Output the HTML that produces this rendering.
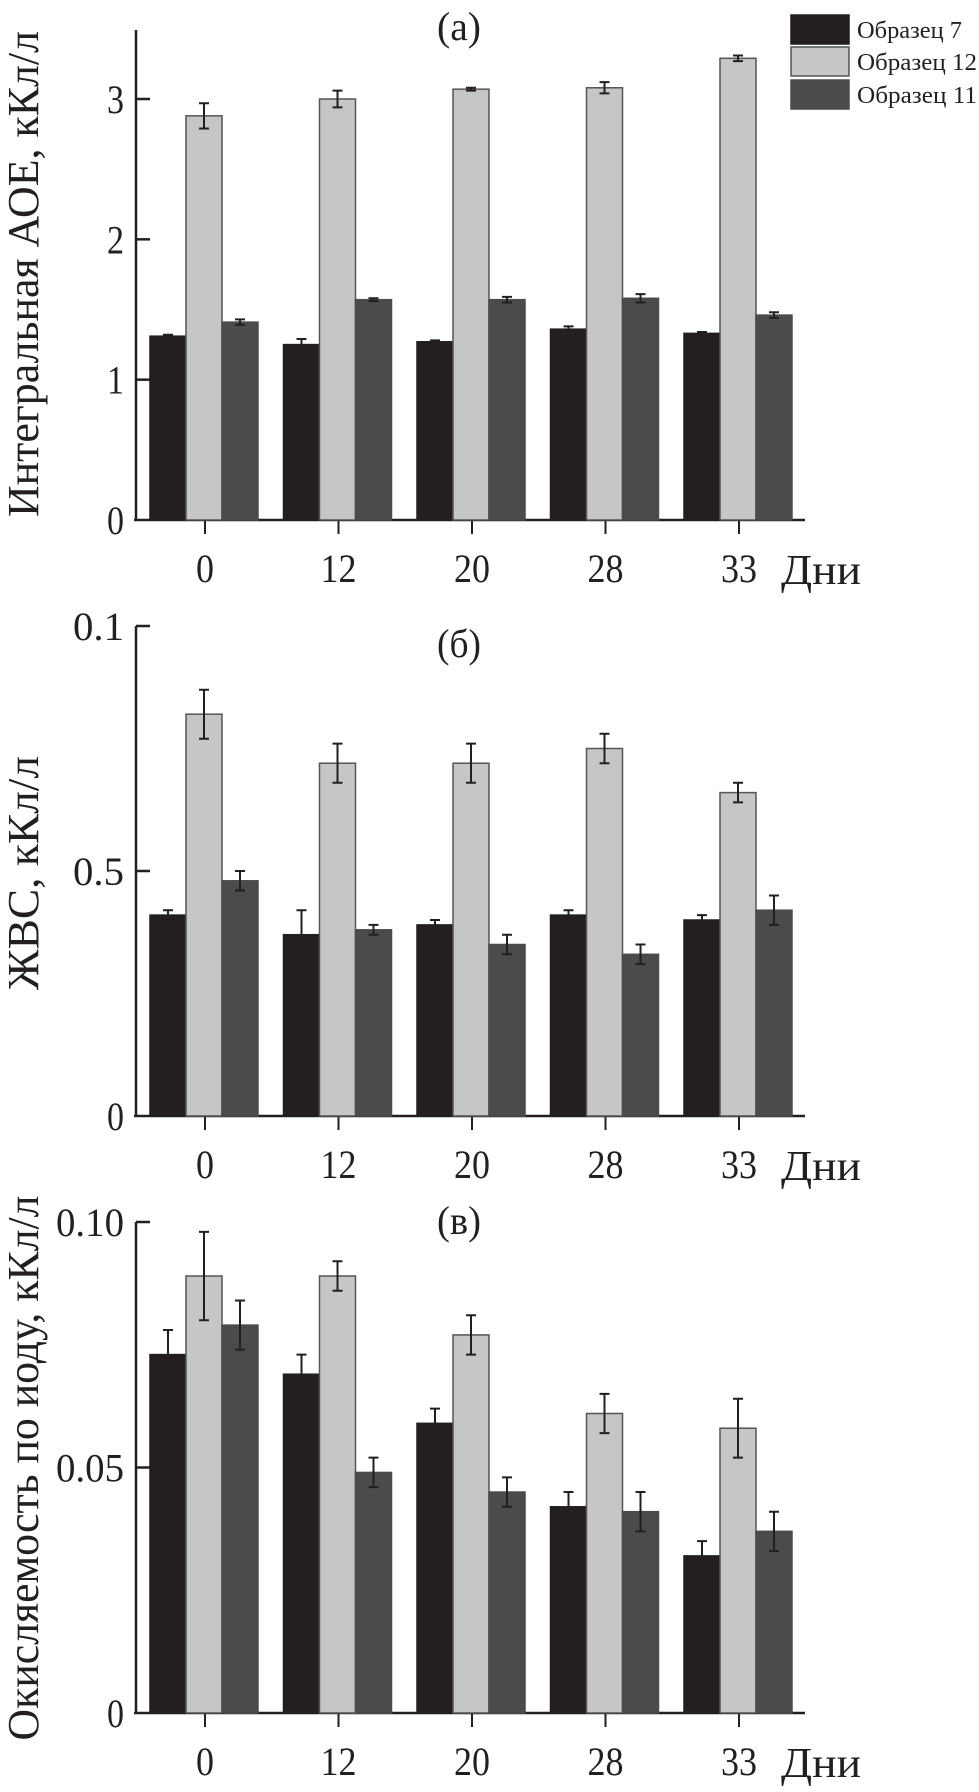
<!DOCTYPE html>
<html><head><meta charset="utf-8"><style>
body{margin:0;background:#fff;}
svg text{font-family:"Liberation Serif",serif;fill:#231f20;}
</style></head><body>
<svg id="chart" width="979" height="1787" xmlns="http://www.w3.org/2000/svg">
</svg>
<script>
const categories = ["0","12","20","28","33"];
const seriesNames = ["Образец 7","Образец 12","Образец 11"];
const colors = ["#231f20","#c5c6c8","#4a4b4d"];
// panel a
const aS7 = [1.31,1.25,1.27,1.36,1.33];
const aS12 = [2.88,3.0,3.07,3.08,3.29];
const aS11 = [1.41,1.57,1.57,1.58,1.46];
const aE7 = [0.01,0.04,0.01,0.02,0.01];
const aE12 = [0.09,0.06,0.01,0.04,0.02];
const aE11 = [0.02,0.01,0.02,0.03,0.02];
const aTicks = [0,1,2,3];
const aTickLabels = ["0","1","2","3"];
// panel b (top tick labelled 0.1 in original)
const bS7 = [0.41,0.37,0.39,0.41,0.40];
const bS12 = [0.82,0.72,0.72,0.75,0.66];
const bS11 = [0.48,0.38,0.35,0.33,0.42];
const bE7 = [0.01,0.05,0.01,0.01,0.01];
const bE12 = [0.05,0.04,0.04,0.03,0.02];
const bE11 = [0.02,0.01,0.02,0.02,0.03];
const bTicks = [0,0.5,1.0];
const bTickLabels = ["0","0.5","0.1"];
// panel c
const cS7 = [0.073,0.069,0.059,0.042,0.032];
const cS12 = [0.089,0.089,0.077,0.061,0.058];
const cS11 = [0.079,0.049,0.045,0.041,0.037];
const cE7 = [0.005,0.004,0.003,0.003,0.003];
const cE12 = [0.009,0.003,0.004,0.004,0.006];
const cE11 = [0.005,0.003,0.003,0.004,0.004];
const cTicks = [0,0.05,0.10];
const cTickLabels = ["0","0.05","0.10"];

const svg = document.getElementById('chart');
const NS = "http://www.w3.org/2000/svg";
function mk(tag, attrs, parent){const e=document.createElementNS(NS,tag);for(const k in attrs)e.setAttribute(k,attrs[k]);(parent||svg).appendChild(e);return e;}

function panel(cfg){
  const g = mk('g',{});
  
  
  const x0=136, x1=805, first=205, step=133.5, bw=36;
  const y = v => cfg.y0 - (v/cfg.vmax)*(cfg.y0-cfg.ytop);
  const ax = mk('line',{x1:x0,y1:cfg.axisTop,x2:x0,y2:cfg.y0,stroke:'#231f20','stroke-width':2.5},g);
  
  
  const xa = mk('line',{x1:x0-2,y1:cfg.y0,x2:x1,y2:cfg.y0,stroke:'#231f20','stroke-width':2.5},g);
  
  
  cfg.ticks.forEach((t,i)=>{
    const ty=y(t);
    if(i>0){const tl=mk('line',{x1:x0,y1:ty,x2:x0+14,y2:ty,stroke:'#231f20','stroke-width':2.5},g);
    
    }
    const lbl=cfg.tickLabels[i];
    const tx=mk('text',{x:124,y:ty+14,'font-size':40,'text-anchor':'end',textLength:lbl.length*17,lengthAdjust:'spacingAndGlyphs'},g);
    tx.textContent=lbl;
    
    
  });
  const series=[cfg.s7,cfg.s12,cfg.s11], errs=[cfg.e7,cfg.e12,cfg.e11];
  categories.forEach((c,i)=>{
    const cx=first+i*step;
    const tk=mk('line',{x1:cx,y1:cfg.y0,x2:cx,y2:cfg.y0+14,stroke:'#231f20','stroke-width':2},g);
    
    
    const lb=mk('text',{x:cx,y:cfg.y0+62,'font-size':40,'text-anchor':'middle',textLength:c.length*18,lengthAdjust:'spacingAndGlyphs'},g);
    lb.textContent=c;
    
    
    series.forEach((s,j)=>{
      const bx=cx-1.5*bw+j*bw-1, top=y(s[i]);
      const r=mk('rect',{x:bx,y:top,width:bw,height:cfg.y0-top,fill:colors[j],stroke:j==1?'#555':colors[j],'stroke-width':1.5},g);
      
      
      const mx=bx+bw/2, e=errs[j][i];
      const eb=mk('path',{d:`M${mx},${y(s[i]+e)}V${y(s[i]-e)}M${mx-5},${y(s[i]+e)}H${mx+5}M${mx-5},${y(s[i]-e)}H${mx+5}`,stroke:'#231f20','stroke-width':2,fill:'none'},g);
      
      
    });
  });
  const dn=mk('text',{x:781,y:cfg.y0+64,'font-size':42,textLength:80,lengthAdjust:'spacingAndGlyphs'},g);
  dn.textContent='Дни';
  
  
  const pl=mk('text',{x:459,y:cfg.labelY,'font-size':40,'text-anchor':'middle',textLength:44,lengthAdjust:'spacingAndGlyphs'},g);
  pl.textContent=cfg.label;
  
  
  const yt=mk('text',{x:0,y:0,'font-size':44,'text-anchor':'middle',textLength:cfg.titleLen,lengthAdjust:'spacingAndGlyphs',transform:`translate(38,${cfg.titleY}) rotate(-90)`},g);
  yt.textContent=cfg.title;
  
  
}
panel({name:'panel-a',key:'a',y0:520,ytop:99,vmax:3,axisTop:30,ticks:aTicks,tickLabels:aTickLabels,s7:aS7,s12:aS12,s11:aS11,e7:aE7,e12:aE12,e11:aE11,label:'(a)',labelY:40,title:'Интегральная АОЕ, кКл/л',titleY:274,titleLen:486});
panel({name:'panel-b',key:'b',y0:1116,ytop:626,vmax:1,axisTop:626,ticks:bTicks,tickLabels:bTickLabels,s7:bS7,s12:bS12,s11:bS11,e7:bE7,e12:bE12,e11:bE11,label:'(б)',labelY:657,title:'ЖВС, кКл/л',titleY:873,titleLen:234});
panel({name:'panel-c',key:'c',y0:1713,ytop:1222,vmax:0.10,axisTop:1222,ticks:cTicks,tickLabels:cTickLabels,s7:cS7,s12:cS12,s11:cS11,e7:cE7,e12:cE12,e11:cE11,label:'(в)',labelY:1234,title:'Окисляемость по иоду, кКл/л',titleY:1468,titleLen:545});

// legend
const lg=mk('g',{});


const ly=[15,47,80];
seriesNames.forEach((n,i)=>{
  const r=mk('rect',{x:791,y:ly[i],width:58,height:29,fill:colors[i],stroke:i==1?'#555':colors[i],'stroke-width':1.5},lg);
  
  
  const t=mk('text',{x:857,y:ly[i]+23,'font-size':24,textLength:n.length>9?120:105,lengthAdjust:'spacingAndGlyphs'},lg);
  t.textContent=n;
  
  
});
</script>
</body></html>
